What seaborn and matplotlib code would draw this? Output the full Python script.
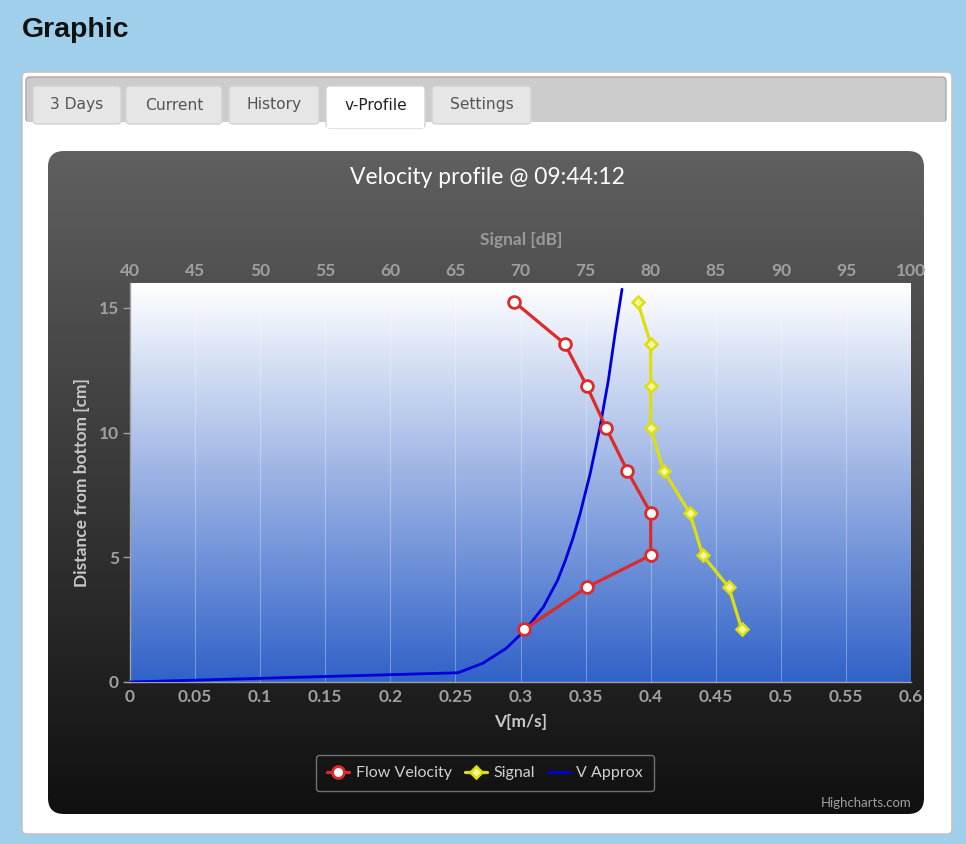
import numpy as np
import matplotlib
matplotlib.use("Agg")
import matplotlib.pyplot as plt
from matplotlib.patches import FancyBboxPatch, Rectangle
from matplotlib.colors import LinearSegmentedColormap
import seaborn as sns

# ---------------- data ----------------
heights = [15.25, 13.56, 11.86, 10.17, 8.47, 6.78, 5.08, 3.80, 2.11]
flow_velocity = [0.295, 0.334, 0.351, 0.366, 0.382, 0.400, 0.400, 0.351, 0.303]
signal_db = [79, 80, 80, 80, 81, 83, 84, 86, 87]
approx_height = [0.0, 0.37, 0.75, 1.35, 2.08, 3.0, 4.08, 4.88, 5.8, 6.75, 8.35, 10.2, 12.1, 13.95, 15.75]
approx_velocity = [0.0, 0.252, 0.271, 0.289, 0.3035, 0.3175, 0.3285, 0.3345, 0.3405, 0.3458, 0.3535, 0.361, 0.3675, 0.3726, 0.378]
v_ticks = [0, 0.05, 0.1, 0.15, 0.2, 0.25, 0.3, 0.35, 0.4, 0.45, 0.5, 0.55, 0.6]
v_ticklabels = ["0", "0.05", "0.1", "0.15", "0.2", "0.25", "0.3", "0.35", "0.4", "0.45", "0.5", "0.55", "0.6"]
db_ticks = [40, 45, 50, 55, 60, 65, 70, 75, 80, 85, 90, 95, 100]
h_ticks = [0, 5, 10, 15]
tab_names = ["3 Days", "Current", "History", "v-Profile", "Settings"]
series_names = ["Flow Velocity", "Signal", "V Approx"]

sns.set_theme(style="white")
plt.rcParams["font.family"] = ["Lato", "DejaVu Sans"]

W, H = 966, 844
fig = plt.figure(figsize=(W / 100, H / 100), dpi=100)
fig.patch.set_facecolor("#9fcfeb")

# background canvas in pixel coordinates
bg = fig.add_axes([0, 0, 1, 1], zorder=-10)
bg.set_axis_off()

def rbox(x0, y0, x1, y1, r, z=1, **kw):
    p = FancyBboxPatch((x0, y0), x1 - x0, y1 - y0,
                       boxstyle=f"round,pad=0,rounding_size={r}", zorder=z, **kw)
    bg.add_patch(p)
    return p

# page title
bg.text(22, 30, "Graphic", fontsize=20.5, fontweight="bold", color="#111111",
        family=["Liberation Sans", "DejaVu Sans"], va="center", ha="left")

# white panel
rbox(22, 72, 952, 834, 5, facecolor="white", edgecolor="#c4c4c4", lw=1.2)
# tab bar
rbox(26, 77, 946, 122, 4, facecolor="#cccccc", edgecolor="#a9a9a9", lw=1)
bg.add_patch(Rectangle((27, 116), 918, 7, facecolor="#cccccc", edgecolor="none", zorder=1))
bg.add_patch(Rectangle((23, 122), 928, 4, facecolor="white", edgecolor="none", zorder=1))
tabs_x = [(33, 121), (126, 222), (229, 319), (326, 425), (432, 531)]
for name, (x0, x1) in zip(tab_names, tabs_x):
    active = name == "v-Profile"
    rbox(x0, 86, x1, 128 if active else 124, 4,
         facecolor="white" if active else "#e6e6e6",
         edgecolor="#d3d3d3", lw=1)
    bg.text((x0 + x1) / 2, 105, name, fontsize=11.2, color="#222222" if active else "#555555",
            family=["DejaVu Sans"], ha="center", va="center", zorder=3)
bg.add_patch(Rectangle((327, 118), 97, 10, facecolor="white", edgecolor="none", zorder=1))

# dark chart container with gradient
box = rbox(48, 151, 924, 814, 16, z=2, facecolor="none", edgecolor="none")
dark = LinearSegmentedColormap.from_list("dark", ["#606060", "#101010"])
grad = np.linspace(0, 1, 256).reshape(-1, 1)
im = bg.imshow(grad, cmap=dark, extent=[48, 924, 814, 151], aspect="auto",
               origin="upper", interpolation="bilinear", zorder=2)
im.set_clip_path(box)

bg.text(487, 177, "Velocity profile @ 09:44:12", fontsize=16.5, color="white",
        ha="center", va="center", zorder=3)
bg.text(911, 803, "Highcharts.com", fontsize=9.5, color="#a0a0a0", ha="right",
        va="center", zorder=3)

bg.set_xlim(0, W)
bg.set_ylim(H, 0)

# ---------------- main plot ----------------
L, R, T, B = 130, 911, 283, 682
ax = fig.add_axes([L / W, 1 - B / H, (R - L) / W, (B - T) / H])
ax.set_facecolor("none")
blue_bg = LinearSegmentedColormap.from_list("plotbg", ["#ffffff", "#3062c8"])
ax.imshow(grad, cmap=blue_bg, extent=[0, 0.6, 0, 16], aspect="auto",
          origin="upper", interpolation="bilinear", zorder=0)

sns.lineplot(x=approx_velocity, y=approx_height, ax=ax, sort=False, estimator=None,
             color="#0000dd", lw=2, zorder=3)
sns.lineplot(x=flow_velocity, y=heights, ax=ax, sort=False, estimator=None,
             color="#dd2a2a", lw=2.3, marker="o", markersize=8.5,
             markerfacecolor="white", markeredgecolor="#dd2a2a",
             markeredgewidth=2, zorder=4)

TICK_FS = 12.5
ax.set_xlim(0, 0.6)
ax.set_ylim(0, 16)
ax.set_xticks(v_ticks)
ax.set_xticklabels(v_ticklabels)
ax.set_yticks(h_ticks)
ax.grid(axis="x", color="white", alpha=0.3, lw=0.8)
ax.grid(axis="y", visible=False)
ax.set_axisbelow(True)
for s in ["top", "right"]:
    ax.spines[s].set_visible(False)
for s in ["left", "bottom"]:
    ax.spines[s].set_color("#a0a0a0")
    ax.spines[s].set_linewidth(1)
ax.tick_params(axis="x", length=0, pad=5, colors="#a0a0a0", labelsize=TICK_FS)
ax.tick_params(axis="y", length=5, width=1, pad=3, colors="#a0a0a0",
               labelsize=TICK_FS, left=True)
for t in ax.get_xticklabels() + ax.get_yticklabels():
    t.set_fontweight("bold")
ax.set_xlabel("V[m/s]", color="#c8c8c8", fontsize=12.5, fontweight="bold", va="center")
ax.xaxis.set_label_coords(0.5, -(722 - B) / (B - T))
ax.set_ylabel("Distance from bottom [cm]", color="#c8c8c8", fontsize=12.5,
              fontweight="bold", va="center")
ax.yaxis.set_label_coords((82 - L) / (R - L), 0.5)

ax2 = ax.twiny()
sns.lineplot(x=signal_db, y=heights, ax=ax2, sort=False, estimator=None,
             color="#DDDF0D", lw=2.3, marker="D", markersize=6.5,
             markerfacecolor="#f4f49a", markeredgecolor="#DDDF0D",
             markeredgewidth=1.8, zorder=4)
ax2.set_xlim(40, 100)
ax2.set_ylim(0, 16)
ax2.set_xticks(db_ticks)
for s in ax2.spines.values():
    s.set_visible(False)
ax2.tick_params(axis="x", length=0, pad=3, colors="#a0a0a0", labelsize=TICK_FS)
for t in ax2.get_xticklabels():
    t.set_fontweight("bold")
ax2.set_xlabel("Signal [dB]", color="#9a9a9a", fontsize=12.5, fontweight="bold", va="center")
ax2.xaxis.set_label_coords((521 - L) / (R - L), (B - 240) / (B - T))

# legend
handles = [ax.lines[1], ax2.lines[0], ax.lines[0]]
leg = fig.legend(handles=handles, labels=series_names, loc="center",
                 bbox_to_anchor=(485 / W, 1 - 773 / H), ncol=3, frameon=True,
                 fancybox=True, edgecolor="#8a8a8a", facecolor="none",
                 labelcolor="#d0d0d0", fontsize=11.5, handlelength=1.4,
                 handletextpad=0.4, columnspacing=0.8, borderpad=0.7)
leg.get_frame().set_linewidth(1)

fig.savefig("out.png", dpi=100, facecolor=fig.get_facecolor())
